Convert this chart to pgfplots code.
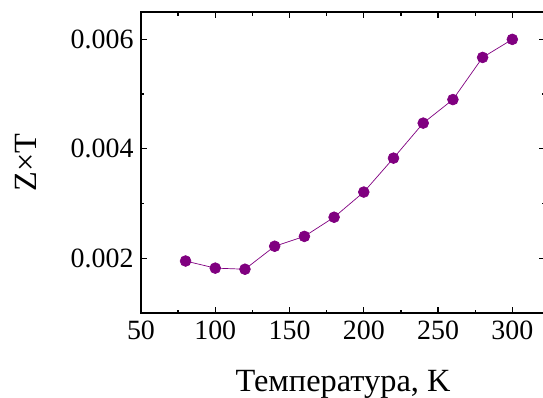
\documentclass[border=0pt]{standalone}
\usepackage{fontspec}
\setmainfont{Liberation Serif}
\usepackage{pgfplots}
\pgfplotsset{compat=1.18}
\definecolor{pur}{HTML}{800080}
\begin{document}
\begin{tikzpicture}[x=1bp,y=1bp]
\clip (-141bp,-85bp) rectangle (402bp,313bp);
\begin{axis}[
  at={(0,0)}, anchor=south west,
  scale only axis, width=404bp, height=301bp,
  xmin=50, xmax=322, ymin=0.001, ymax=0.0065,
  xtick={50,100,...,300}, minor xtick={75,125,...,325},
  ytick={0.002,0.004,0.006}, minor ytick={0.003,0.005},
  tick align=inside,
  major tick length=6bp, minor tick length=3.5bp,
  every tick/.style={black, line width=1.3bp},
  axis line style={line width=2bp},
  /pgf/number format/assume math mode=true,
  /pgf/number format/fixed, /pgf/number format/precision=3,
  /pgf/number format/fixed zerofill,
  xticklabel style={/pgf/number format/fixed zerofill=false, /pgf/number format/precision=0, yshift=-4bp},
  ticklabel style={font=\fontsize{28}{32}\selectfont},
  yticklabel style={xshift=-4bp},
  xlabel={Температура, K}, ylabel={Z×T},
  label style={font=\fontsize{32.5}{36}\selectfont},
  x label style={at={(axis description cs:0.5,-0.236)}, anchor=center},
  y label style={at={(axis description cs:-0.285,0.5)}, anchor=center, rotate=0},
  scaled y ticks=false,
]
\addplot[pur, line width=0.7bp, mark=*, mark size=5.4bp, mark options={fill=pur, draw=pur}]
coordinates {
(80,0.00195) (100,0.00182) (120,0.00180) (140,0.00222) (160,0.00240)
(180,0.00275) (200,0.00321) (220,0.00383) (240,0.00447) (260,0.00490)
(280,0.00567) (300,0.00600)
};
\end{axis}
\end{tikzpicture}
\end{document}
